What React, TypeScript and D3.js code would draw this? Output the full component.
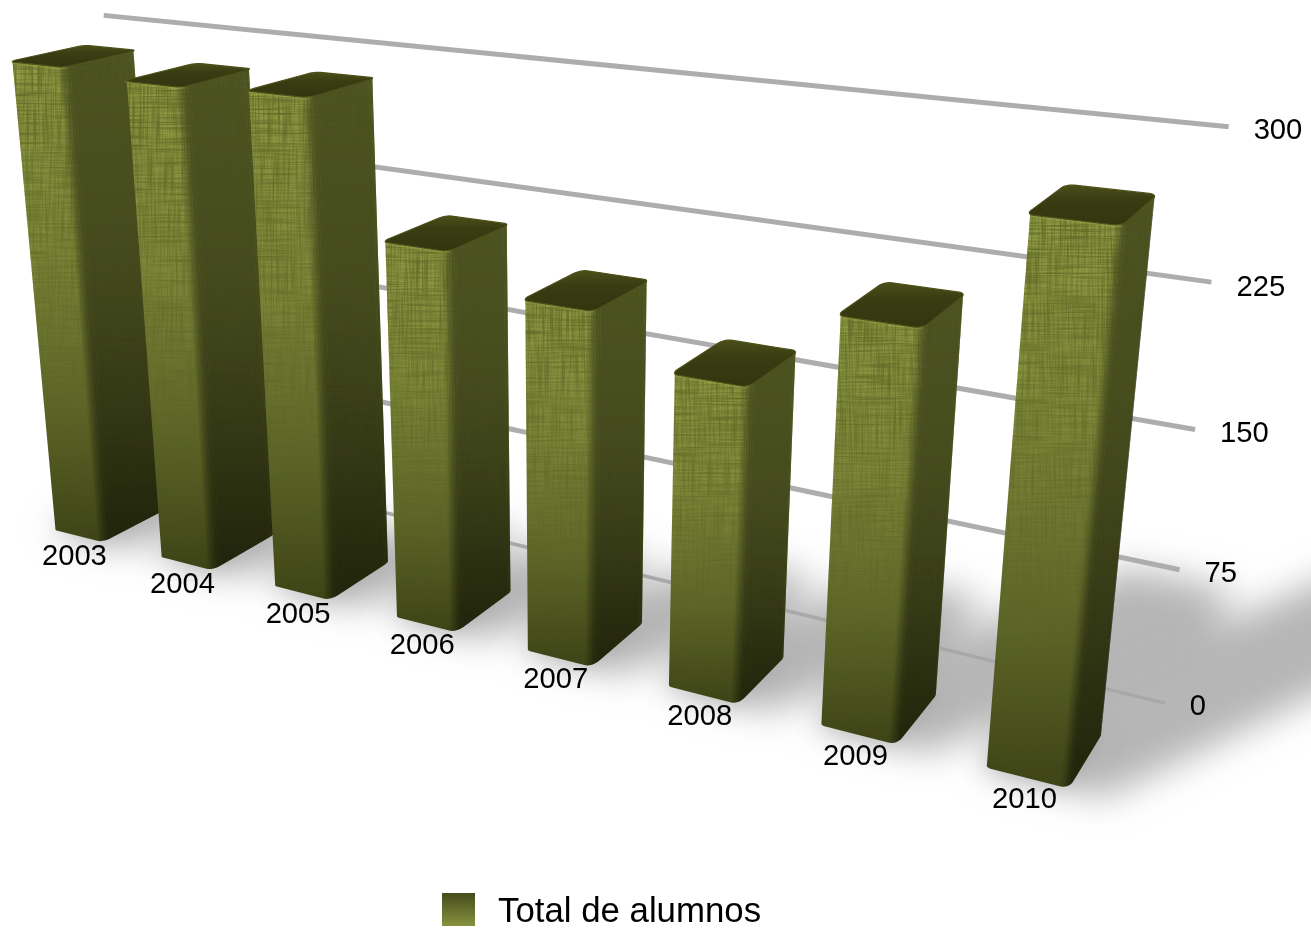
import React from "react";
import * as d3 from "d3";

const categories = ["2003", "2004", "2005", "2006", "2007", "2008", "2009", "2010"];
const values = [294, 290, 292, 219, 199, 173, 216, 275];
const ticks = [0, 75, 150, 225, 300];
const seriesName = "Total de alumnos";

// Projective camera fitted to the picture: category axis, value axis, depth axis.
const cam = { x0: 55, y0: 530, ax: 101.05, ay: 8.96, g: -0.0326, vx: 567, vy: 6100, dx: 1742, dy: -318, p: 0.042 };
const tScale = d3.scaleLinear().domain([0, 300]).range([0, 0.0791]);
const project = (i: number, v: number, e: number): [number, number] => {
  const t = tScale(v);
  const W = 1 + cam.g * i - t + cam.p * e;
  return [
    (cam.x0 + cam.ax * i - cam.vx * t + cam.dx * cam.p * e) / W,
    (cam.y0 + cam.ay * i - cam.vy * t + cam.dy * cam.p * e) / W,
  ];
};

const barShift = -0.03, barW = 0.49, ri = 0.045, re = 0.12;
const wallDepth = 1.68, gridFrom = -0.52, gridFromDepth = 2.03, gridTo = 7.69;

type P = { i: number; e: number; ang: number };
const arc = (ci: number, ce: number, from: number, to: number, n = 6): P[] =>
  d3.range(n + 1).map((k) => {
    const a = from + ((to - from) * k) / n;
    const r = (a * Math.PI) / 180;
    return { i: ci + ri * Math.cos(r), e: ce + re * Math.sin(r), ang: a };
  });
const visible = (i0: number): P[] => [
  ...arc(i0 + ri, re, 235, 270, 3),
  ...arc(i0 + barW - ri, re, 270, 360),
  ...arc(i0 + barW - ri, 1 - re, 360, 400, 3),
];
const loop = (i0: number): P[] => [
  ...arc(i0 + ri, re, 180, 270),
  ...arc(i0 + barW - ri, re, 270, 360),
  ...arc(i0 + barW - ri, 1 - re, 0, 90),
  ...arc(i0 + ri, 1 - re, 90, 180),
];
const shade = (ang: number) => {
  if (ang < 270) return 0;
  return Math.min(0.46, ((ang - 270) / 60) * 0.4);
};
const poly = (pts: [number, number][]) => d3.line()(pts) + "Z";

const shadowLength = (i0: number, v: number) => (v * 1.55 * (0.15 + 0.72 * (i0 / 6) ** 2)) / 275;
const shadowPath = (i0: number, v: number) => {
  const s = shadowLength(i0, v);
  const foot: [number, number][] = [];
  [[0, 0], [barW + 0.2, 0], [barW + 0.2, 1], [0, 1]].forEach(([a, b]) => {
    foot.push(project(i0 + a, 0, b));
    foot.push(project(i0 + a + s, 0, b + 3 * s));
  });
  return poly(d3.polygonHull(foot) as [number, number][]);
};
const haloPath = (i0: number) =>
  poly([[0, 0], [barW, 0], [barW, 1], [0, 1]].map(([a, b]) => project(i0 + a, 0, b)));

const FONT = "'Liberation Sans', Arial, sans-serif";

export default function App() {
  return (
    <svg width={1311} height={929} style={{ position: "fixed", left: 0, top: 0, background: "#fff" }} fontFamily={FONT}>
      <defs>
        <linearGradient id="body" x1="0" y1="0" x2="0" y2="1">
          <stop offset="0" stopColor="#939f46" />
          <stop offset="0.4" stopColor="#7f893a" />
          <stop offset="0.72" stopColor="#5e6628" />
          <stop offset="1" stopColor="#3e4417" />
        </linearGradient>
        <linearGradient id="fade" x1="0" y1="0" x2="0" y2="1">
          <stop offset="0" stopColor="#fff" stopOpacity="0.7" />
          <stop offset="0.5" stopColor="#fff" stopOpacity="0.35" />
          <stop offset="0.8" stopColor="#fff" stopOpacity="0.05" />
          <stop offset="1" stopColor="#fff" stopOpacity="0" />
        </linearGradient>
        <linearGradient id="topFace" x1="0" y1="0" x2="0" y2="1">
          <stop offset="0" stopColor="#4b4f1a" />
          <stop offset="0.35" stopColor="#3a3d12" />
          <stop offset="1" stopColor="#33350f" />
        </linearGradient>
        <linearGradient id="legend" x1="0" y1="0" x2="0" y2="1">
          <stop offset="0" stopColor="#454b1b" />
          <stop offset="1" stopColor="#87923e" />
        </linearGradient>
        <filter id="cloth" x="0" y="0" width="1" height="1" colorInterpolationFilters="sRGB">
          <feTurbulence type="fractalNoise" baseFrequency="0.02 0.55" numOctaves="2" seed="4" result="h" />
          <feColorMatrix in="h" type="matrix" values="0 0 0 0 0.28  0 0 0 0 0.31  0 0 0 0 0.09  2 0 0 0 -0.72" result="ha" />
          <feTurbulence type="fractalNoise" baseFrequency="0.55 0.02" numOctaves="2" seed="11" result="v" />
          <feColorMatrix in="v" type="matrix" values="0 0 0 0 0.28  0 0 0 0 0.31  0 0 0 0 0.09  2 0 0 0 -0.72" result="va" />
          <feMerge result="m">
            <feMergeNode in="ha" />
            <feMergeNode in="va" />
          </feMerge>
          <feGaussianBlur in="m" stdDeviation="0.5" result="mb" />
          <feComposite in="mb" in2="SourceAlpha" operator="in" />
        </filter>
        <filter id="shadowBlur" x="-30%" y="-30%" width="160%" height="160%">
          <feGaussianBlur stdDeviation="18" />
        </filter>
        <filter id="haloBlur" x="-40%" y="-40%" width="180%" height="180%">
          <feGaussianBlur stdDeviation="12" />
        </filter>
        <filter id="soft" x="-10%" y="-50%" width="120%" height="200%">
          <feGaussianBlur stdDeviation="1" />
        </filter>
      </defs>

      <g filter="url(#shadowBlur)">
        {values.map((v, k) => (
          <path key={k} d={shadowPath(k + barShift, v)} fill="#a4a4a4" opacity={0.8} />
        ))}
      </g>
      <g filter="url(#haloBlur)">
        {values.map((v, k) => (
          <path key={k} d={haloPath(k + barShift)} fill="#9a9a9a" opacity={0.4} />
        ))}
      </g>

      {ticks.map((t) => {
        const line = d3.line()([project(gridFrom, t, gridFromDepth), project(gridTo, t, wallDepth)]) as string;
        const end = project(gridTo, t, wallDepth);
        return (
          <g key={t}>
            <path d={line} stroke={t === 0 ? "#a8a8a8" : "#adadad"} strokeWidth={t === 0 ? 3.5 : 5} fill="none" />
            <text x={end[0] + 25} y={end[1] + (t === 225 ? 14 : 12)} fontSize={29.2} fill="#000">{t}</text>
          </g>
        );
      })}

      {values.map((v, n0) => {
        const k = n0 + barShift;
        const vis = visible(k);
        const bottom = vis.map((q) => project(q.i, 0, q.e));
        const top = vis.map((q) => project(q.i, v, q.e));
        const body = poly([...bottom, ...top.slice().reverse()]);
        const rim = d3.line()(
          arc(k + ri, re, 235, 270, 3).concat(arc(k + barW - ri, re, 270, 320, 3)).map((q) => project(q.i, v, q.e)),
        ) as string;
        return (
          <g key={n0}>
            <path d={body} fill="url(#body)" />
            {vis.slice(0, -1).map((q, n) => {
              const r = vis[n + 1];
              const a = (shade(q.ang) + shade(r.ang)) / 2;
              if (a < 0.004) return null;
              return (
                <path
                  key={n}
                  d={poly([project(q.i, 0, q.e), project(r.i, 0, r.e), project(r.i, v, r.e), project(q.i, v, q.e)])}
                  fill="#000"
                  opacity={a}
                />
              );
            })}
            <path d={body} fill="url(#fade)" filter="url(#cloth)" />
            <path d={rim} fill="none" stroke="#aeb954" strokeWidth={2.5} opacity={0.7} filter="url(#soft)" />
            <path
              d={poly(loop(k).map((q) => project(q.i, v, q.e)))}
              fill="url(#topFace)"
              stroke="#4d5119"
              strokeWidth={1.2}
            />
          </g>
        );
      })}

      {categories.map((c, k) => {
        const b = project(k + barW / 2, 0, 0);
        return (
          <text key={c} x={b[0] - 6} y={b[1] + 29} textAnchor="middle" fontSize={29.2} fill="#000">
            {c}
          </text>
        );
      })}

      <rect x={442} y={893} width={33} height={33} fill="url(#legend)" />
      <text x={498} y={922} fontSize={34.8} fill="#000">{seriesName}</text>
    </svg>
  );
}
